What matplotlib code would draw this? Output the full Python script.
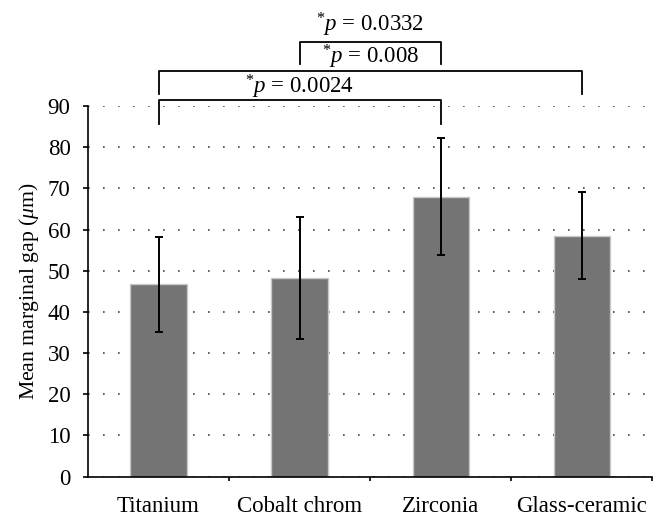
import matplotlib
matplotlib.use("Agg")
import matplotlib.pyplot as plt
import numpy as np

plt.rcParams['font.family'] = ['Liberation Serif', 'DejaVu Serif']
plt.rcParams['mathtext.fontset'] = 'custom'
plt.rcParams['mathtext.rm'] = 'Liberation Serif'
plt.rcParams['mathtext.it'] = 'Liberation Serif:italic'

materials = ["Titanium", "Cobalt chrom", "Zirconia", "Glass-ceramic"]
mean_gap = [46.7, 48.2, 68.0, 58.5]
sd_gap = [11.6, 14.9, 14.2, 10.5]

# brackets: (left index, right index, top y, leg bottom y)
brackets = [(0, 2, 91.5, 85.7), (0, 3, 98.5, 93.0), (1, 2, 105.5, 100.2)]
p_labels = ["0.0024", "0.008", "0.0332"]
p_pos = [(1.0, 94.6), (1.5, 101.9), (1.5, 109.7)]

fig = plt.figure(figsize=(6.6, 5.23), dpi=100)
ax = fig.add_axes([0.1333, 0.0889, 0.8553, 0.7084])

x = np.arange(len(materials))
ax.bar(x, mean_gap, width=0.4, color='#747474', edgecolor='#c8c8c8', linewidth=1, zorder=2)
ax.errorbar(x, mean_gap, yerr=sd_gap, fmt='none', ecolor='black', elinewidth=1.4,
            capsize=3, capthick=1.4, zorder=3)

ax.set_xlim(-0.5, 3.5)
ax.set_ylim(0, 90)
ax.set_yticks(range(0, 91, 10))
ax.set_xticks(x)
ax.set_xticklabels(materials, fontsize=16.5)
ax.set_xticks([0.5, 1.5, 2.5, 3.5], minor=True)
ax.tick_params(axis='x', which='major', length=0, pad=14)
ax.tick_params(axis='x', which='minor', length=3, width=1.2, direction='out')
ax.tick_params(axis='y', labelsize=16.5, length=3.5, width=1.2, pad=9)
ax.set_ylabel(r"Mean marginal gap ($\mu$m)", fontsize=15.7, labelpad=5)

for s in ['top', 'right']:
    ax.spines[s].set_visible(False)
for s in ['left', 'bottom']:
    ax.spines[s].set_linewidth(1.2)

ax.yaxis.grid(True, linestyle=(0, (1, 8)), color='#444444', linewidth=1.2, zorder=0)
ax.set_axisbelow(True)

for (a, b, top, low) in brackets:
    ax.plot([a, a, b, b], [low, top, top, low], color='black', linewidth=1.3, clip_on=False)

for lab, (px, py) in zip(p_labels, p_pos):
    ax.text(px, py, r"$^{*}p$ = " + lab, fontsize=16.5, ha='center', va='center')

fig.savefig("out.png", dpi=100)
